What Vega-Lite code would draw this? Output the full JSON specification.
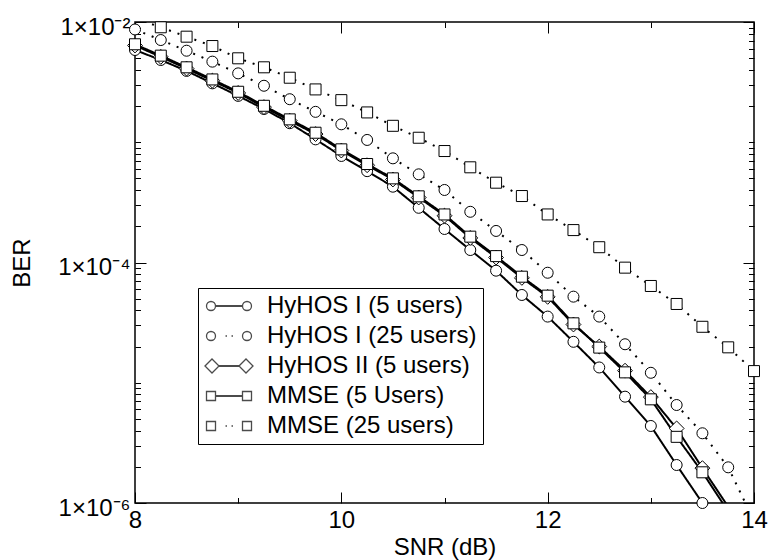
{
  "$schema": "https://vega.github.io/schema/vega-lite/v6.json",
  "width": 619,
  "height": 481,
  "autosize": {"type": "none"},
  "padding": {"left": 135, "top": 22, "right": 14, "bottom": 57},
  "background": "white",
  "config": {
    "view": {"stroke": "black", "strokeWidth": 1.5},
    "font": "Liberation Sans",
    "axis": {
      "domain": false, "grid": false,
      "labelFont": "Liberation Sans", "labelFontSize": 24, "labelColor": "black",
      "tickColor": "black", "tickWidth": 1,
      "titleFont": "Liberation Sans", "titleFontSize": 24, "titleFontWeight": "normal", "titleColor": "black"
    }
  },
  "data": {"values": [
    {"s": "HyHOS I (5 users)", "x": 8, "y": 5.85e-3},
    {"s": "HyHOS I (5 users)", "x": 8.25, "y": 4.83e-3},
    {"s": "HyHOS I (5 users)", "x": 8.5, "y": 3.92e-3},
    {"s": "HyHOS I (5 users)", "x": 8.75, "y": 3.09e-3},
    {"s": "HyHOS I (5 users)", "x": 9, "y": 2.43e-3},
    {"s": "HyHOS I (5 users)", "x": 9.25, "y": 1.89e-3},
    {"s": "HyHOS I (5 users)", "x": 9.5, "y": 1.44e-3},
    {"s": "HyHOS I (5 users)", "x": 9.75, "y": 1.057e-3},
    {"s": "HyHOS I (5 users)", "x": 10, "y": 7.69e-4},
    {"s": "HyHOS I (5 users)", "x": 10.25, "y": 5.75e-4},
    {"s": "HyHOS I (5 users)", "x": 10.5, "y": 4.27e-4},
    {"s": "HyHOS I (5 users)", "x": 10.75, "y": 2.85e-4},
    {"s": "HyHOS I (5 users)", "x": 11, "y": 1.9e-4},
    {"s": "HyHOS I (5 users)", "x": 11.25, "y": 1.27e-4},
    {"s": "HyHOS I (5 users)", "x": 11.5, "y": 8.55e-5},
    {"s": "HyHOS I (5 users)", "x": 11.75, "y": 5.37e-5},
    {"s": "HyHOS I (5 users)", "x": 12, "y": 3.55e-5},
    {"s": "HyHOS I (5 users)", "x": 12.25, "y": 2.19e-5},
    {"s": "HyHOS I (5 users)", "x": 12.5, "y": 1.34e-5},
    {"s": "HyHOS I (5 users)", "x": 12.75, "y": 7.66e-6},
    {"s": "HyHOS I (5 users)", "x": 13, "y": 4.37e-6},
    {"s": "HyHOS I (5 users)", "x": 13.25, "y": 2.07e-6},
    {"s": "HyHOS I (5 users)", "x": 13.5, "y": 1.0e-6},

    {"s": "HyHOS I (25 users)", "x": 8, "y": 8.67e-3},
    {"s": "HyHOS I (25 users)", "x": 8.25, "y": 7.08e-3},
    {"s": "HyHOS I (25 users)", "x": 8.5, "y": 5.77e-3},
    {"s": "HyHOS I (25 users)", "x": 8.75, "y": 4.68e-3},
    {"s": "HyHOS I (25 users)", "x": 9, "y": 3.74e-3},
    {"s": "HyHOS I (25 users)", "x": 9.25, "y": 2.95e-3},
    {"s": "HyHOS I (25 users)", "x": 9.5, "y": 2.28e-3},
    {"s": "HyHOS I (25 users)", "x": 9.75, "y": 1.79e-3},
    {"s": "HyHOS I (25 users)", "x": 10, "y": 1.41e-3},
    {"s": "HyHOS I (25 users)", "x": 10.25, "y": 1.045e-3},
    {"s": "HyHOS I (25 users)", "x": 10.5, "y": 7.35e-4},
    {"s": "HyHOS I (25 users)", "x": 10.75, "y": 5.41e-4},
    {"s": "HyHOS I (25 users)", "x": 11, "y": 4.01e-4},
    {"s": "HyHOS I (25 users)", "x": 11.25, "y": 2.64e-4},
    {"s": "HyHOS I (25 users)", "x": 11.5, "y": 1.83e-4},
    {"s": "HyHOS I (25 users)", "x": 11.75, "y": 1.27e-4},
    {"s": "HyHOS I (25 users)", "x": 12, "y": 8.22e-5},
    {"s": "HyHOS I (25 users)", "x": 12.25, "y": 5.2e-5},
    {"s": "HyHOS I (25 users)", "x": 12.5, "y": 3.55e-5},
    {"s": "HyHOS I (25 users)", "x": 12.75, "y": 2.09e-5},
    {"s": "HyHOS I (25 users)", "x": 13, "y": 1.21e-5},
    {"s": "HyHOS I (25 users)", "x": 13.25, "y": 6.53e-6},
    {"s": "HyHOS I (25 users)", "x": 13.5, "y": 3.8e-6},
    {"s": "HyHOS I (25 users)", "x": 13.75, "y": 1.98e-6},
    {"s": "HyHOS I (25 users)", "x": 14, "y": 7.1e-7},

    {"s": "HyHOS II (5 users)", "x": 8, "y": 6.38e-3},
    {"s": "HyHOS II (5 users)", "x": 8.25, "y": 5.13e-3},
    {"s": "HyHOS II (5 users)", "x": 8.5, "y": 4.1e-3},
    {"s": "HyHOS II (5 users)", "x": 8.75, "y": 3.25e-3},
    {"s": "HyHOS II (5 users)", "x": 9, "y": 2.57e-3},
    {"s": "HyHOS II (5 users)", "x": 9.25, "y": 1.96e-3},
    {"s": "HyHOS II (5 users)", "x": 9.5, "y": 1.51e-3},
    {"s": "HyHOS II (5 users)", "x": 9.75, "y": 1.17e-3},
    {"s": "HyHOS II (5 users)", "x": 10, "y": 8.53e-4},
    {"s": "HyHOS II (5 users)", "x": 10.25, "y": 6.44e-4},
    {"s": "HyHOS II (5 users)", "x": 10.5, "y": 4.9e-4},
    {"s": "HyHOS II (5 users)", "x": 10.75, "y": 3.47e-4},
    {"s": "HyHOS II (5 users)", "x": 11, "y": 2.45e-4},
    {"s": "HyHOS II (5 users)", "x": 11.25, "y": 1.6e-4},
    {"s": "HyHOS II (5 users)", "x": 11.5, "y": 1.1e-4},
    {"s": "HyHOS II (5 users)", "x": 11.75, "y": 7.45e-5},
    {"s": "HyHOS II (5 users)", "x": 12, "y": 5.18e-5},
    {"s": "HyHOS II (5 users)", "x": 12.25, "y": 3.05e-5},
    {"s": "HyHOS II (5 users)", "x": 12.5, "y": 2.0e-5},
    {"s": "HyHOS II (5 users)", "x": 12.75, "y": 1.26e-5},
    {"s": "HyHOS II (5 users)", "x": 13, "y": 7.6e-6},
    {"s": "HyHOS II (5 users)", "x": 13.25, "y": 4.17e-6},
    {"s": "HyHOS II (5 users)", "x": 13.5, "y": 1.95e-6},
    {"s": "HyHOS II (5 users)", "x": 13.75, "y": 9.3e-7},

    {"s": "MMSE (5 Users)", "x": 8, "y": 6.53e-3},
    {"s": "MMSE (5 Users)", "x": 8.25, "y": 5.25e-3},
    {"s": "MMSE (5 Users)", "x": 8.5, "y": 4.2e-3},
    {"s": "MMSE (5 Users)", "x": 8.75, "y": 3.33e-3},
    {"s": "MMSE (5 Users)", "x": 9, "y": 2.63e-3},
    {"s": "MMSE (5 Users)", "x": 9.25, "y": 2.01e-3},
    {"s": "MMSE (5 Users)", "x": 9.5, "y": 1.55e-3},
    {"s": "MMSE (5 Users)", "x": 9.75, "y": 1.2e-3},
    {"s": "MMSE (5 Users)", "x": 10, "y": 8.73e-4},
    {"s": "MMSE (5 Users)", "x": 10.25, "y": 6.59e-4},
    {"s": "MMSE (5 Users)", "x": 10.5, "y": 5.01e-4},
    {"s": "MMSE (5 Users)", "x": 10.75, "y": 3.55e-4},
    {"s": "MMSE (5 Users)", "x": 11, "y": 2.51e-4},
    {"s": "MMSE (5 Users)", "x": 11.25, "y": 1.64e-4},
    {"s": "MMSE (5 Users)", "x": 11.5, "y": 1.13e-4},
    {"s": "MMSE (5 Users)", "x": 11.75, "y": 7.62e-5},
    {"s": "MMSE (5 Users)", "x": 12, "y": 5.3e-5},
    {"s": "MMSE (5 Users)", "x": 12.25, "y": 3.12e-5},
    {"s": "MMSE (5 Users)", "x": 12.5, "y": 1.96e-5},
    {"s": "MMSE (5 Users)", "x": 12.75, "y": 1.22e-5},
    {"s": "MMSE (5 Users)", "x": 13, "y": 7.28e-6},
    {"s": "MMSE (5 Users)", "x": 13.25, "y": 3.55e-6},
    {"s": "MMSE (5 Users)", "x": 13.5, "y": 1.8e-6},
    {"s": "MMSE (5 Users)", "x": 13.75, "y": 8.5e-7},

    {"s": "MMSE (25 users)", "x": 8, "y": 1.07e-2},
    {"s": "MMSE (25 users)", "x": 8.25, "y": 9.04e-3},
    {"s": "MMSE (25 users)", "x": 8.5, "y": 7.55e-3},
    {"s": "MMSE (25 users)", "x": 8.75, "y": 6.31e-3},
    {"s": "MMSE (25 users)", "x": 9, "y": 4.99e-3},
    {"s": "MMSE (25 users)", "x": 9.25, "y": 4.2e-3},
    {"s": "MMSE (25 users)", "x": 9.5, "y": 3.44e-3},
    {"s": "MMSE (25 users)", "x": 9.75, "y": 2.75e-3},
    {"s": "MMSE (25 users)", "x": 10, "y": 2.24e-3},
    {"s": "MMSE (25 users)", "x": 10.25, "y": 1.77e-3},
    {"s": "MMSE (25 users)", "x": 10.5, "y": 1.37e-3},
    {"s": "MMSE (25 users)", "x": 10.75, "y": 1.09e-3},
    {"s": "MMSE (25 users)", "x": 11, "y": 8.45e-4},
    {"s": "MMSE (25 users)", "x": 11.25, "y": 6.19e-4},
    {"s": "MMSE (25 users)", "x": 11.5, "y": 4.61e-4},
    {"s": "MMSE (25 users)", "x": 11.75, "y": 3.57e-4},
    {"s": "MMSE (25 users)", "x": 12, "y": 2.51e-4},
    {"s": "MMSE (25 users)", "x": 12.25, "y": 1.86e-4},
    {"s": "MMSE (25 users)", "x": 12.5, "y": 1.34e-4},
    {"s": "MMSE (25 users)", "x": 12.75, "y": 9.06e-5},
    {"s": "MMSE (25 users)", "x": 13, "y": 6.38e-5},
    {"s": "MMSE (25 users)", "x": 13.25, "y": 4.52e-5},
    {"s": "MMSE (25 users)", "x": 13.5, "y": 2.92e-5},
    {"s": "MMSE (25 users)", "x": 13.75, "y": 1.97e-5},
    {"s": "MMSE (25 users)", "x": 14, "y": 1.25e-5}
  ]},
  "layer": [
    {
      "mark": {"type": "line", "clip": true, "color": "black", "strokeWidth": 2},
      "encoding": {
        "x": {"field": "x", "type": "quantitative",
          "scale": {"domain": [8, 14], "nice": false, "zero": false},
          "axis": {"orient": "bottom", "values": [8, 9, 10, 11, 12, 13, 14],
            "labelExpr": "datum.value % 2 == 0 ? datum.label : ''",
            "tickSize": {"condition": {"test": "datum.value % 2 == 0", "value": -11}, "value": -5.5},
            "labelPadding": 16, "labelFlush": false, "labelOverlap": false,
            "title": "SNR (dB)", "titleY": 44, "titleBaseline": "middle"}},
        "y": {"field": "y", "type": "quantitative",
          "scale": {"type": "log", "domain": [1e-6, 1e-2], "nice": false},
          "axis": {"orient": "left",
            "values": [1e-6, 2e-6, 3e-6, 4e-6, 5e-6, 6e-6, 7e-6, 8e-6, 9e-6, 1e-5, 2e-5, 3e-5, 4e-5, 5e-5, 6e-5, 7e-5, 8e-5, 9e-5, 1e-4, 2e-4, 3e-4, 4e-4, 5e-4, 6e-4, 7e-4, 8e-4, 9e-4, 1e-3, 2e-3, 3e-3, 4e-3, 5e-3, 6e-3, 7e-3, 8e-3, 9e-3, 1e-2],
            "labelExpr": "abs(log(datum.value)/LN10 + 2) < 0.01 ? '1×10⁻²' : abs(log(datum.value)/LN10 + 4) < 0.01 ? '1×10⁻⁴' : abs(log(datum.value)/LN10 + 6) < 0.01 ? '1×10⁻⁶' : ''",
            "tickSize": {"condition": {"test": "abs(log(datum.value)/LN10 + 2) < 0.01 || abs(log(datum.value)/LN10 + 4) < 0.01 || abs(log(datum.value)/LN10 + 6) < 0.01", "value": -11}, "value": -5.5},
            "labelPadding": 16, "labelOffset": 5, "labelOverlap": false, "labelFlush": false,
            "title": "BER", "titleX": -113, "titleY": 240.5, "titleAngle": -90, "titleBaseline": "middle", "titleAlign": "center"}},
        "detail": {"field": "s"},
        "strokeDash": {"field": "s", "type": "nominal",
          "scale": {"domain": ["HyHOS I (5 users)", "HyHOS I (25 users)", "HyHOS II (5 users)", "MMSE (5 Users)", "MMSE (25 users)"],
            "range": [[1, 0], [2, 7], [1, 0], [1, 0], [2, 7]]},
          "legend": null}
      }
    },
    {
      "transform": [{"filter": "datum.y >= 1e-6 && datum.y <= 1e-2"}],
      "mark": {"type": "point", "filled": true, "fill": "white", "stroke": "black", "strokeWidth": 1, "size": 121, "opacity": 1},
      "encoding": {
        "x": {"field": "x", "type": "quantitative",
          "axis": {"orient": "top", "values": [8, 9, 10, 11, 12, 13, 14], "labels": false, "title": null,
            "tickSize": {"condition": {"test": "datum.value % 2 == 0", "value": -11}, "value": -5.5}}},
        "y": {"field": "y", "type": "quantitative",
          "axis": {"orient": "right", "labels": false, "title": null,
            "values": [1e-6, 2e-6, 3e-6, 4e-6, 5e-6, 6e-6, 7e-6, 8e-6, 9e-6, 1e-5, 2e-5, 3e-5, 4e-5, 5e-5, 6e-5, 7e-5, 8e-5, 9e-5, 1e-4, 2e-4, 3e-4, 4e-4, 5e-4, 6e-4, 7e-4, 8e-4, 9e-4, 1e-3, 2e-3, 3e-3, 4e-3, 5e-3, 6e-3, 7e-3, 8e-3, 9e-3, 1e-2],
            "tickSize": {"condition": {"test": "abs(log(datum.value)/LN10 + 2) < 0.01 || abs(log(datum.value)/LN10 + 4) < 0.01 || abs(log(datum.value)/LN10 + 6) < 0.01", "value": -11}, "value": -5.5}}},
        "shape": {"field": "s", "type": "nominal",
          "scale": {"domain": ["HyHOS I (5 users)", "HyHOS I (25 users)", "HyHOS II (5 users)", "MMSE (5 Users)", "MMSE (25 users)"],
            "range": ["circle", "circle", "M-1.35,0L0,-1.35L1.35,0L0,1.35Z", "square", "square"]},
          "legend": null}
      }
    },
    {
      "transform": [{"filter": "false"}],
      "mark": {"type": "point", "filled": false, "stroke": "black"},
      "encoding": {
        "x": {"field": "x", "type": "quantitative", "axis": null},
        "y": {"field": "y", "type": "quantitative", "axis": null},
        "shape": {"field": "s", "type": "nominal",
          "scale": {"domain": ["HyHOS I (5 users)", "HyHOS I (25 users)", "HyHOS II (5 users)", "MMSE (5 Users)", "MMSE (25 users)"],
            "range": [
              "M-0.95,0A0.45,0.45 0 1,1 -0.05,0A0.45,0.45 0 1,1 -0.95,0ZM-0.05,-0.04L2.65,-0.04M-0.05,0.04L2.65,0.04M2.65,0A0.45,0.45 0 1,1 3.55,0A0.45,0.45 0 1,1 2.65,0Z",
              "M-0.95,0A0.45,0.45 0 1,1 -0.05,0A0.45,0.45 0 1,1 -0.95,0ZM0.95,0L1.1,0M1.55,0L1.7,0M2.65,0A0.45,0.45 0 1,1 3.55,0A0.45,0.45 0 1,1 2.65,0Z",
              "M-1.1,0L-0.4,-0.7L0.3,0L-0.4,0.7ZM0.3,-0.04L2.3,-0.04M0.3,0.04L2.3,0.04M2.3,0L3,-0.7L3.7,0L3,0.7Z",
              "M-0.95,-0.45L-0.05,-0.45L-0.05,0.45L-0.95,0.45ZM-0.05,-0.04L2.65,-0.04M-0.05,0.04L2.65,0.04M2.65,-0.45L3.55,-0.45L3.55,0.45L2.65,0.45Z",
              "M-0.95,-0.45L-0.05,-0.45L-0.05,0.45L-0.95,0.45ZM0.95,0L1.1,0M1.55,0L1.7,0M2.65,-0.45L3.55,-0.45L3.55,0.45L2.65,0.45Z"
            ]},
          "legend": {
            "orient": "none", "legendX": 63, "legendY": 266, "title": null,
            "symbolSize": 400, "labelFontSize": 24, "labelFont": "Liberation Sans", "labelColor": "black",
            "labelOffset": 39, "labelLimit": 400, "padding": 6, "rowPadding": 6,
            "strokeColor": "black", "fillColor": "white", "cornerRadius": 0,
            "symbolStrokeWidth": 1.3, "symbolFillColor": "white", "symbolStrokeColor": "black",
            "encode": {"symbols": {"update": {"fill": {"value": "white"}, "stroke": {"value": "black"}, "strokeWidth": {"value": 1.3}, "opacity": {"value": 1}}}}
          }}
      }
    }
  ],
  "resolve": {"scale": {"shape": "independent"}, "axis": {"x": "independent", "y": "independent"}}
}
